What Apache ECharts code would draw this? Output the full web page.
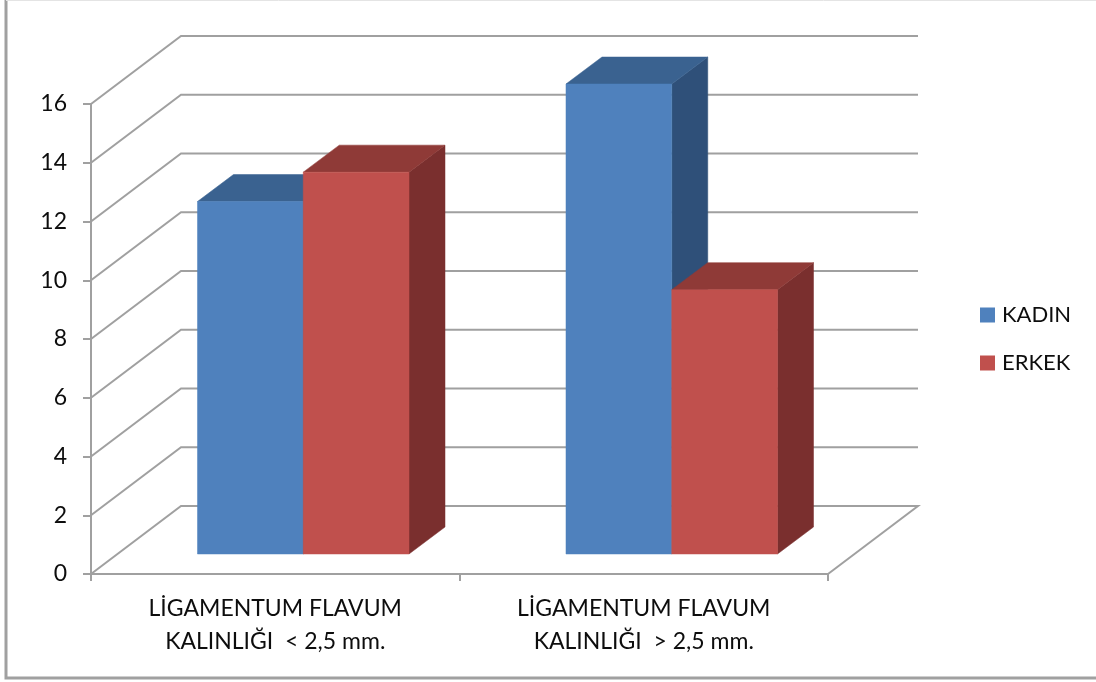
<!DOCTYPE html>
<html>
<head>
<meta charset="utf-8">
<style>
  html, body { margin: 0; padding: 0; background: #fff; }
  #chart { width: 1096px; height: 682px; }
</style>
<script src="https://cdn.jsdelivr.net/npm/echarts@6/dist/echarts.min.js"></script>
</head>
<body>
<div id="chart"></div>
<script>
// Ligamentum flavum thickness by sex
const categories = ['LİGAMENTUM FLAVUM\nKALINLIĞI  < 2,5 mm.', 'LİGAMENTUM FLAVUM\nKALINLIĞI  > 2,5 mm.'];
const kadin = [12, 16];
const erkek = [13, 9];
const yTicks = [0, 2, 4, 6, 8, 10, 12, 14, 16];

const FONT = 'Lato, "Open Sans", sans-serif';
const GRID_COLOR = '#a0a0a0';
const TEXT_COLOR = '#0d0d0d';

// Oblique projection of the 3D box, in pixels
const WALL_DX = 90, WALL_DY = -68;   // back wall relative to the front plane
const BAR_DX = 28, BAR_DY = -20;     // bar front face relative to the front plane
const BOX_DX = 36, BOX_DY = -27;     // depth of one bar
const BAR_SHARE = 0.287;             // bar width as a share of the category band

const gridLine = { stroke: GRID_COLOR, lineWidth: 2, fill: null };

// Left wall diagonals, back wall lines and the floor's far edge
function renderWall(params, api) {
  const cs = params.coordSys;
  const v = api.value(0);
  const y = api.coord([0, v])[1];
  const x0 = cs.x, x1 = cs.x + cs.width;
  const bx0 = x0 + WALL_DX, bx1 = x1 + WALL_DX, by = y + WALL_DY;
  const points = [[x0, y], [bx0, by], [bx1, by]];
  if (v === 0) points.push([x1, y]);
  return { type: 'polyline', shape: { points }, style: gridLine, silent: true };
}

function face(points, fill) {
  return { type: 'polygon', shape: { points }, style: { fill, stroke: fill, lineWidth: 0.5 } };
}

// One extruded bar: offset is -1 for the left bar of a pair and 0 for the right one
function boxRenderer(offset, front, top, side) {
  return function (params, api) {
    const band = api.size([1, 0])[0];
    const w = band * BAR_SHARE;
    const idx = api.value(0);
    const base = api.coord([idx, 0]);
    const head = api.coord([idx, api.value(1)]);
    const xl = base[0] + BAR_DX + offset * w, xr = xl + w;
    const yb = base[1] + BAR_DY, yt = head[1] + BAR_DY;
    return {
      type: 'group',
      children: [
        face([[xr, yt], [xr + BOX_DX, yt + BOX_DY], [xr + BOX_DX, yb + BOX_DY], [xr, yb]], side),
        face([[xl, yt], [xl + BOX_DX, yt + BOX_DY], [xr + BOX_DX, yt + BOX_DY], [xr, yt]], top),
        face([[xl, yt], [xr, yt], [xr, yb], [xl, yb]], front)
      ]
    };
  };
}

const chart = echarts.init(document.getElementById('chart'), null, { renderer: 'canvas' });
chart.setOption({
  animation: false,
  backgroundColor: '#fff',
  textStyle: { fontFamily: FONT },
  // Chart area border: left and bottom edges, a faint top edge
  graphic: [
    {
      type: 'polyline', silent: true, z: -1,
      shape: { points: [[6, 0], [6, 678], [1096, 678]] },
      style: { fill: null, stroke: '#a0a0a0', lineWidth: 3 }
    },
    {
      type: 'line', silent: true, z: -1,
      shape: { x1: 6, y1: 0.5, x2: 1096, y2: 0.5 },
      style: { stroke: '#e4e4e4', lineWidth: 1 }
    }
  ],
  legend: {
    orient: 'vertical',
    left: 975,
    top: 299,
    itemWidth: 15,
    itemHeight: 15,
    itemGap: 26,
    icon: 'rect',
    textStyle: { fontFamily: FONT, fontSize: 22, color: TEXT_COLOR, padding: [0, 0, 0, 2] },
    data: ['KADIN', 'ERKEK']
  },
  grid: { left: 91, top: 104, width: 737, height: 470 },
  xAxis: {
    type: 'category',
    data: categories,
    axisLine: { show: true, lineStyle: { color: GRID_COLOR, width: 2 } },
    axisTick: { show: true, length: 7, lineStyle: { color: GRID_COLOR, width: 2 } },
    axisLabel: { color: TEXT_COLOR, fontFamily: FONT, fontSize: 23, lineHeight: 33, margin: 18 }
  },
  yAxis: {
    type: 'value',
    min: 0,
    max: 16,
    interval: 2,
    splitLine: { show: false },
    axisLine: { show: true, lineStyle: { color: GRID_COLOR, width: 2 } },
    axisTick: { show: true, length: 8, lineStyle: { color: GRID_COLOR, width: 2 } },
    axisLabel: { color: TEXT_COLOR, fontFamily: FONT, fontSize: 23, margin: 24, padding: [3, 0, 0, 0] }
  },
  series: [
    {
      type: 'custom', name: 'wall', silent: true, z: 1,
      coordinateSystem: 'cartesian2d',
      renderItem: renderWall,
      encode: { y: 0 },
      data: yTicks.map(v => [v])
    },
    {
      type: 'custom', name: 'KADIN', z: 2,
      coordinateSystem: 'cartesian2d',
      itemStyle: { color: '#4f81bd' },
      renderItem: boxRenderer(-1, '#4f81bd', '#3a6290', '#2f5079'),
      encode: { x: 0, y: 1 },
      data: kadin.map((v, i) => [i, v])
    },
    {
      type: 'custom', name: 'ERKEK', z: 3,
      coordinateSystem: 'cartesian2d',
      itemStyle: { color: '#c0504d' },
      renderItem: boxRenderer(0, '#c0504d', '#8f3a37', '#7a2f2e'),
      encode: { x: 0, y: 1 },
      data: erkek.map((v, i) => [i, v])
    }
  ]
});
</script>
</body>
</html>
